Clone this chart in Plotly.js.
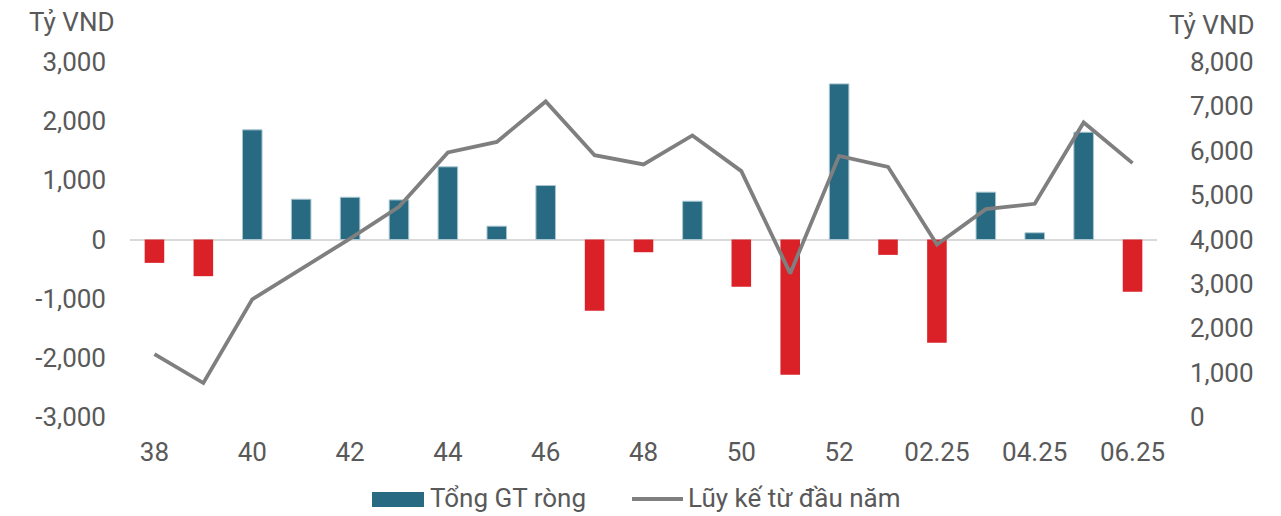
<!DOCTYPE html>
<html>
<head>
<meta charset="utf-8">
<script src="https://cdn.plot.ly/plotly-3.0.1.min.js"></script>
<style>html,body{margin:0;padding:0;background:#fff;}#chart{width:1281px;height:516px;}</style>
</head>
<body>
<div id="chart"></div>
<script>
var categories = ["38","39","40","41","42","43","44","45","46","47","48","49","50","51","52","01.25","02.25","03.25","04.25","05.25","06.25"];
var netValue = [-395,-620,1853,681,714,669,1228,225,912,-1206,-215,647,-800,-2287,2630,-260,-1747,800,113,1813,-885];
var cumulative = [1419,766,2650,3330,4020,4737,5962,6200,7110,5900,5691,6344,5541,3236,5885,5637,3889,4685,4804,6637,5721];
var xTickLabels = ["38","40","42","44","46","48","50","52","02.25","04.25","06.25"];
var leftTickVals = [-3000,-2000,-1000,0,1000,2000,3000];
var leftTickText = ["-3,000","-2,000","-1,000","0","1,000","2,000","3,000"];
var rightTickVals = [0,1000,2000,3000,4000,5000,6000,7000,8000];
var rightTickText = ["0","1,000","2,000","3,000","4,000","5,000","6,000","7,000","8,000"];
var seriesNames = ["Tổng GT ròng","Lũy kế từ đầu năm"];
var unitLabel = "Tỷ VND";

var posVals = netValue.map(function(v){ return v >= 0 ? v : null; });
var negVals = netValue.map(function(v){ return v < 0 ? v : null; });

var font = "Roboto, 'Open Sans', sans-serif";
var txt = "#595959";
var teal = "#276a82", red = "#da2128", gray = "#7f7f7f";
var FS = 26;

var traces = [
  {type:"bar", x:categories, y:posVals, name:seriesNames[0],
   marker:{color:teal, line:{color:"#a9c6d1", width:1}}, yaxis:"y", showlegend:false},
  {type:"bar", x:categories, y:negVals, name:seriesNames[0],
   marker:{color:red}, yaxis:"y", showlegend:false},
  {type:"scatter", mode:"lines", x:categories, y:cumulative, name:seriesNames[1],
   line:{color:gray, width:3.8}, yaxis:"y2", showlegend:false}
];

// legend placement helpers (paper coords of plot area 130..1157 x, 62..417 y)
function px(x){ return (x-130)/1027; }
function py(y){ return (417-y)/355; }

var layout = {
  width:1281, height:516,
  margin:{l:130, r:124, t:62, b:99, autoexpand:false},
  paper_bgcolor:"#fff", plot_bgcolor:"#fff",
  barmode:"overlay", bargap:0.6,
  font:{family:font, color:txt, size:FS},
  showlegend:false,
  xaxis:{type:"category", tickmode:"array", tickvals:xTickLabels, ticktext:xTickLabels,
         showgrid:false, zeroline:false, showline:false, ticks:"",
         tickfont:{size:FS, color:txt}, ticklabelstandoff:17},
  yaxis:{range:[-3000,3000], tickmode:"array", tickvals:leftTickVals, ticktext:leftTickText,
         showgrid:false, zeroline:true, zerolinecolor:"#d9d9d9", zerolinewidth:2,
         showline:false, ticks:"", tickfont:{size:FS, color:txt}, ticklabelstandoff:23},
  yaxis2:{range:[0,8000], tickmode:"array", tickvals:rightTickVals, ticktext:rightTickText,
          overlaying:"y", side:"right",
          showgrid:false, zeroline:false, showline:false, ticks:"",
          tickfont:{size:FS, color:txt}, ticklabelstandoff:32},
  shapes:[
    {type:"rect", xref:"paper", yref:"paper", x0:px(372), x1:px(424), y0:py(507), y1:py(492),
     fillcolor:teal, line:{width:0}},
    {type:"line", xref:"paper", yref:"paper", x0:px(632), x1:px(683), y0:py(499), y1:py(499),
     line:{color:gray, width:3.8}}
  ],
  annotations:[
    {text:unitLabel, xref:"paper", yref:"paper", x:px(27), y:py(22), xanchor:"left", yanchor:"middle",
     showarrow:false, font:{size:FS, color:txt}},
    {text:unitLabel, xref:"paper", yref:"paper", x:px(1167), y:py(25), xanchor:"left", yanchor:"middle",
     showarrow:false, font:{size:FS, color:txt}},
    {text:seriesNames[0], xref:"paper", yref:"paper", x:px(428), y:py(498), xanchor:"left", yanchor:"middle",
     showarrow:false, font:{size:FS, color:txt}},
    {text:seriesNames[1], xref:"paper", yref:"paper", x:px(686), y:py(498), xanchor:"left", yanchor:"middle",
     showarrow:false, font:{size:FS, color:txt}}
  ]
};

Plotly.newPlot("chart", traces, layout, {displayModeBar:false, staticPlot:true});
</script>
</body>
</html>
